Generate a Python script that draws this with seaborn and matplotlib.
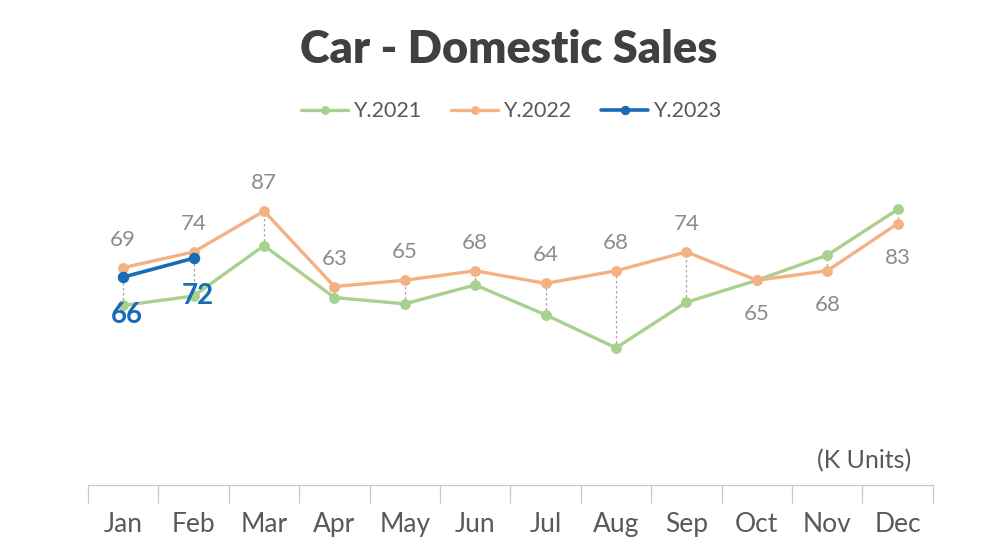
import matplotlib
matplotlib.use("Agg")
import matplotlib.pyplot as plt
import seaborn as sns
import pandas as pd
import numpy as np

months = ["Jan", "Feb", "Mar", "Apr", "May", "Jun", "Jul", "Aug", "Sep", "Oct", "Nov", "Dec"]
sales_2021 = [57, 60, 76, 59.5, 57.5, 63.5, 54, 43.5, 58, 65, 73, 87.5]
sales_2022 = [69, 74, 87, 63, 65, 68, 64, 68, 74, 65, 68, 83]
sales_2023 = [66, 72]
series_names = ["Y.2021", "Y.2022", "Y.2023"]
colors = ["#A9D18E", "#F4B183", "#1A6BB5"]

sns.set_style("white")
plt.rcParams["font.family"] = ["Lato", "DejaVu Sans"]

rows = []
for name, vals in zip(series_names, [sales_2021, sales_2022, sales_2023]):
    for i, v in enumerate(vals):
        rows.append({"month": months[i], "idx": i, "series": name, "value": v})
df = pd.DataFrame(rows)

fig = plt.figure(figsize=(10.02, 5.48), dpi=100)
ax = fig.add_axes([0.0878, 0.1155, 0.8432, 0.574])

# high-low connectors between the series at each month
for i in range(len(months)):
    vals = [s[i] for s in (sales_2021, sales_2022, sales_2023) if i < len(s)]
    ax.vlines(i, min(vals), max(vals), colors="#A6A6A6", linestyles=(0, (2, 2)), linewidth=0.9, zorder=1)

for name, col in zip(series_names, colors):
    sub = df[df["series"] == name]
    sns.lineplot(data=sub, x="idx", y="value", ax=ax, color=col, marker="o",
                 markersize=7 if name != "Y.2023" else 7.5, markeredgecolor=col,
                 linewidth=2.4 if name != "Y.2023" else 2.6, label=name, zorder=3 if name != "Y.2023" else 4)

# value labels for 2022
below = {9, 10, 11}
for i, v in enumerate(sales_2022):
    off = -34 if i in below else 28
    ax.annotate(f"{v:g}", (i, v), xytext=(0, off), textcoords="offset pixels",
                ha="center", va="center", fontsize=16, color="#8C8C8C")

# value labels for 2023
for i, v in enumerate(sales_2023):
    ax.annotate(f"{v:g}", (i, v), xytext=(4, -38), textcoords="offset pixels",
                ha="center", va="center", fontsize=20, fontweight="bold", color="#1A6BB5")

ax.set_xlim(-0.5, 11.5)
ax.set_ylim(0, 100)
ax.set_xticks(np.arange(-0.5, 12, 1))
ax.set_xticklabels([])
ax.set_xticks(np.arange(12), minor=True)
ax.set_xticklabels(months, minor=True)
ax.tick_params(axis="x", which="major", bottom=True, length=13, width=0.9, color="#C8C8C8", direction="out")
ax.tick_params(axis="x", which="minor", bottom=True, length=0, labelsize=19, labelcolor="#595959", pad=20)
ax.set_yticks([])
ax.set_xlabel("")
ax.set_ylabel("")
for s in ["top", "right", "left"]:
    ax.spines[s].set_visible(False)
ax.spines["bottom"].set_color("#C8C8C8")
ax.spines["bottom"].set_linewidth(0.9)

ax.text(0.975, 0.078, "(K Units)", transform=ax.transAxes, ha="right", va="center",
        fontsize=18, color="#595959")

fig.text(0.508, 0.91, "Car - Domestic Sales", ha="center", va="center",
         fontsize=32.5, fontweight="heavy", color="#404040")

leg = ax.legend(loc="center", bbox_to_anchor=(0.51, 0.797), bbox_transform=fig.transFigure,
                ncol=3, frameon=False, fontsize=15.5, handlelength=2.2, handletextpad=0.2,
                columnspacing=1.4, markerscale=0.8)
for t in leg.get_texts():
    t.set_color("#595959")

fig.savefig("out.png", dpi=100)
